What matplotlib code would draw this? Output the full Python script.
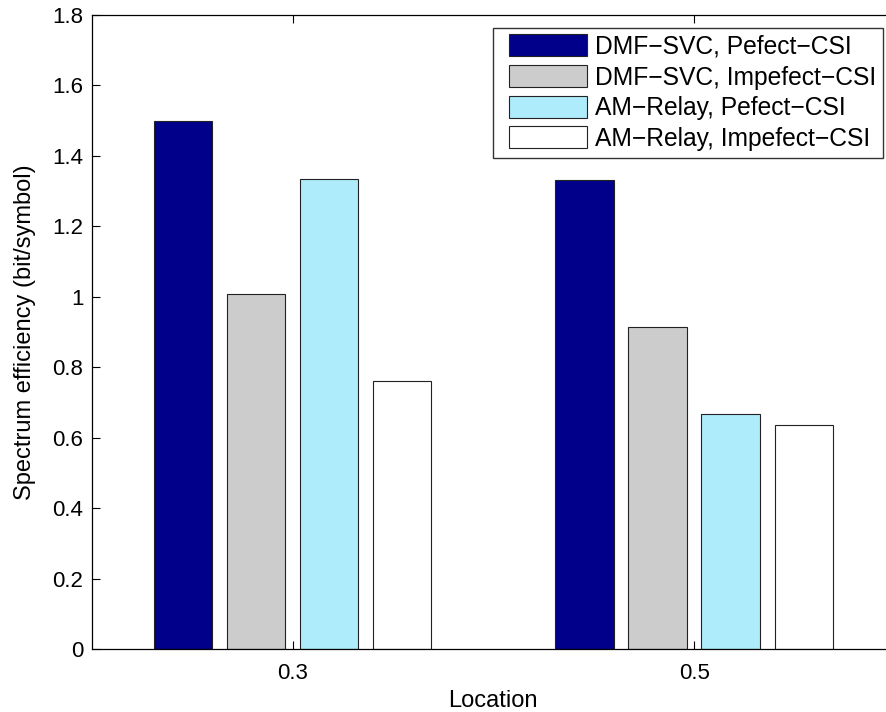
import numpy as np
import matplotlib
matplotlib.use("Agg")
import matplotlib.pyplot as plt
from matplotlib.patches import Rectangle
from matplotlib.container import BarContainer
from matplotlib.legend_handler import HandlerPatch

plt.rcParams['font.family'] = ['Liberation Sans', 'DejaVu Sans']

locations = [0.3, 0.5]
series_names = [
    "DMF\u2212SVC, Pefect\u2212CSI",
    "DMF\u2212SVC, Impefect\u2212CSI",
    "AM\u2212Relay, Pefect\u2212CSI",
    "AM\u2212Relay, Impefect\u2212CSI",
]
dmf_perfect = [1.50, 1.332]
dmf_imperfect = [1.009, 0.916]
am_perfect = [1.334, 0.667]
am_imperfect = [0.760, 0.637]
colors = ["#00008B", "#CCCCCC", "#AEEBFB", "#FFFFFF"]

series = [dmf_perfect, dmf_imperfect, am_perfect, am_imperfect]

W, H = 887, 712
fig = plt.figure(figsize=(W / 100, H / 100), dpi=100)
left, right, top, bottom = 91.7, 895.0, 15.0, 649.3
ax = fig.add_axes([left / W, 1 - bottom / H, (right - left) / W, (bottom - top) / H])

# grouped bars, MATLAB-style spacing
n = len(series)
spacing = 0.2
group_w = min(0.8, n / (n + 1.5)) * spacing
step = group_w / n
bar_w = 0.8 * step
x = np.array(locations)
for i, (vals, name, c) in enumerate(zip(series, series_names, colors)):
    off = (i - (n - 1) / 2) * step
    ax.bar(x + off, vals, width=bar_w, color=c, edgecolor="#222222",
           linewidth=0.8, label=name, zorder=2)

ax.set_xlim(0.2, 0.6)
ax.set_ylim(0, 1.8)
ax.set_xticks(locations)
ax.set_xticklabels(["0.3", "0.5"])
ax.set_yticks(np.arange(0, 1.81, 0.2))
ax.set_yticklabels(["0", "0.2", "0.4", "0.6", "0.8", "1", "1.2", "1.4", "1.6", "1.8"])
ax.tick_params(direction="in", length=5.5, width=0.8, labelsize=16,
               top=True, right=True)
ax.tick_params(axis="y", pad=6)
ax.tick_params(axis="x", pad=10)
for s in ax.spines.values():
    s.set_linewidth(0.9)
    s.set_zorder(3)

ax.set_xlabel("Location", fontsize=17, labelpad=4)
ax.set_ylabel("Spectrum efficiency (bit/symbol)", fontsize=17, labelpad=12)

# legend swatches: fixed-size boxes inset from the frame edge
leg_fs = 17.7
em = leg_fs * 100 / 72
sw_w, sw_h, sw_off = 78.0, 22.0, 9.0


def swatch(legend, orig_handle, xdescent, ydescent, width, height, fontsize):
    h = sw_h * 72 / 100
    return Rectangle((-xdescent + sw_off * 72 / 100, -ydescent + (height - h) / 2),
                     sw_w * 72 / 100, h)


def copy_style(legend_handle, orig_handle):
    legend_handle.update_from(orig_handle.patches[0])


leg = ax.legend(loc="upper right",
                bbox_to_anchor=((883 - left) / (right - left), 1 - (28 - top) / (bottom - top)),
                fontsize=leg_fs, frameon=True, fancybox=False, edgecolor="black",
                handlelength=(sw_w + sw_off) / em, handleheight=0.85,
                handletextpad=0.33, labelspacing=0.27, borderpad=0.28,
                borderaxespad=0,
                handler_map={BarContainer: HandlerPatch(patch_func=swatch,
                                                        update_func=copy_style)})
leg.get_frame().set_linewidth(1.0)

fig.savefig("out.png", dpi=100)
